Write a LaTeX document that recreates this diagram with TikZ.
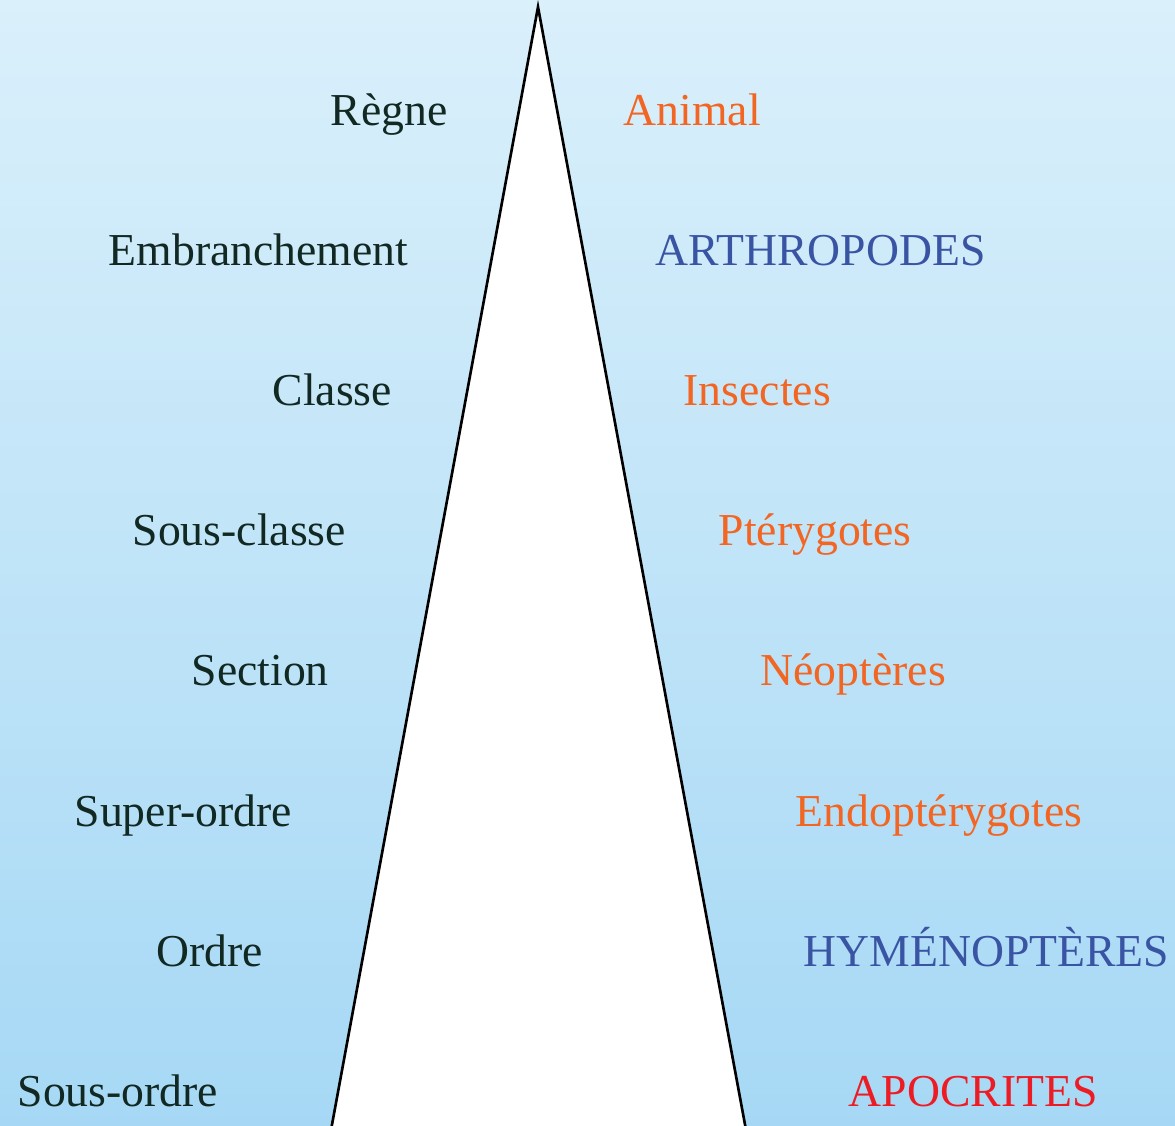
\documentclass[tikz,border=0pt]{standalone}
\usepackage{fontspec}
\setmainfont{Liberation Serif}
\usepackage{tikz}

\definecolor{skytop}{RGB}{218,240,251}
\definecolor{skybottom}{RGB}{166,216,245}
\definecolor{rankink}{RGB}{18,40,34}
\definecolor{taxorange}{RGB}{242,101,34}
\definecolor{taxblue}{RGB}{58,84,164}
\definecolor{taxred}{RGB}{237,28,36}

\tikzset{
    rank/.style={anchor=base west, inner sep=0pt, text=rankink, font=\fontsize{13}{15}\selectfont},
    taxon/.style={anchor=base west, inner sep=0pt, font=\fontsize{13}{15}\selectfont},
}

\begin{document}
\begin{tikzpicture}[x=0.1mm, y=-0.1mm]
    \shade[top color=skytop, bottom color=skybottom] (0,0) rectangle (1175,1126);
    \useasboundingbox (0,0) rectangle (1175,1126);
    \fill[white] (538,7) -- (331,1130) -- (746,1130) -- cycle;
    \draw[line width=0.75pt, line join=miter] (331,1130) -- (538,7) -- (746,1130);

    \node[rank] (regne)   at (330, 126) {Règne};
    \node[rank] (embr)    at (108, 266) {Embranchement};
    \node[rank] (classe)  at (272, 406) {Classe};
    \node[rank] (sclasse) at (132, 546) {Sous-classe};
    \node[rank] (section) at (191, 686) {Section};
    \node[rank] (sordre)  at ( 74, 826) {Super-ordre};
    \node[rank] (ordre)   at (156, 966) {Ordre};
    \node[rank] (ssordre) at ( 17,1106) {Sous-ordre};

    \node[taxon, text=taxorange] (animal)  at (623, 126) {Animal};
    \node[taxon, text=taxblue]   (arthro)  at (655, 266) {ARTHROPODES};
    \node[taxon, text=taxorange] (insect)  at (683, 406) {Insectes};
    \node[taxon, text=taxorange] (ptery)   at (718, 546) {Ptérygotes};
    \node[taxon, text=taxorange] (neopt)   at (760, 686) {Néoptères};
    \node[taxon, text=taxorange] (endopt)  at (795, 826) {Endoptérygotes};
    \node[taxon, text=taxblue]   (hymeno)  at (803, 966) {HYMÉNOPTÈRES};
    \node[taxon, text=taxred]    (apocr)   at (848,1106) {APOCRITES};
\end{tikzpicture}
\end{document}
